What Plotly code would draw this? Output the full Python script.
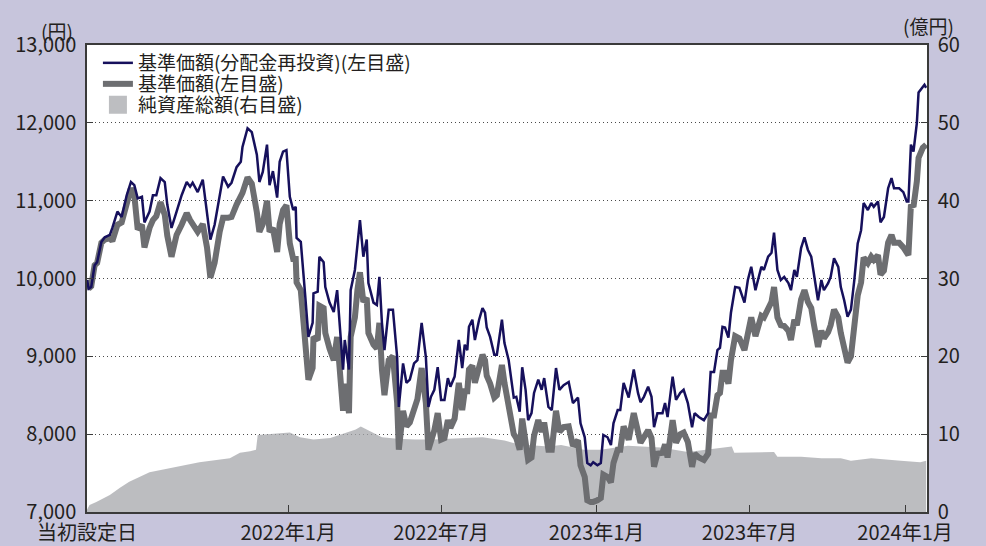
import plotly.graph_objects as go

# ---------------- data ----------------
dates = [
    "2021-05-08", "2021-05-10", "2021-05-13", "2021-05-17", "2021-05-20", "2021-05-25", "2021-05-29", "2021-06-04",
    "2021-06-07", "2021-06-13", "2021-06-18", "2021-06-24", "2021-06-29", "2021-07-03", "2021-07-07", "2021-07-12",
    "2021-07-15", "2021-07-21", "2021-07-25", "2021-07-29", "2021-08-03", "2021-08-08", "2021-08-11", "2021-08-16",
    "2021-08-22", "2021-08-28", "2021-09-03", "2021-09-07", "2021-09-10", "2021-09-16", "2021-09-22", "2021-09-27",
    "2021-10-01", "2021-10-06", "2021-10-12", "2021-10-16", "2021-10-22", "2021-10-26", "2021-11-01", "2021-11-06",
    "2021-11-08", "2021-11-14", "2021-11-19", "2021-11-25", "2021-11-28", "2021-12-02", "2021-12-07", "2021-12-10",
    "2021-12-14", "2021-12-19", "2021-12-22", "2021-12-26", "2021-12-30", "2022-01-03", "2022-01-07", "2022-01-10",
    "2022-01-11", "2022-01-16", "2022-01-21", "2022-01-25", "2022-01-30", "2022-01-31", "2022-02-05", "2022-02-07",
    "2022-02-12", "2022-02-14", "2022-02-19", "2022-02-24", "2022-02-28", "2022-03-03", "2022-03-07", "2022-03-09",
    "2022-03-14", "2022-03-16", "2022-03-21", "2022-03-24", "2022-03-27", "2022-03-31", "2022-04-04", "2022-04-06",
    "2022-04-12", "2022-04-16", "2022-04-19", "2022-04-22", "2022-04-25", "2022-04-30", "2022-05-05", "2022-05-10",
    "2022-05-12", "2022-05-17", "2022-05-21", "2022-05-25", "2022-05-30", "2022-06-03", "2022-06-08", "2022-06-13",
    "2022-06-16", "2022-06-19", "2022-06-23", "2022-06-27", "2022-07-01", "2022-07-05", "2022-07-09", "2022-07-12",
    "2022-07-17", "2022-07-22", "2022-07-26", "2022-07-29", "2022-08-01", "2022-08-03", "2022-08-07", "2022-08-10",
    "2022-08-15", "2022-08-19", "2022-08-22", "2022-08-24", "2022-08-28", "2022-09-02", "2022-09-05", "2022-09-11",
    "2022-09-14", "2022-09-19", "2022-09-25", "2022-09-28", "2022-10-02", "2022-10-05", "2022-10-09", "2022-10-12",
    "2022-10-16", "2022-10-19", "2022-10-24", "2022-10-28", "2022-10-31", "2022-11-05", "2022-11-09", "2022-11-14",
    "2022-11-18", "2022-11-23", "2022-11-29", "2022-12-04", "2022-12-10", "2022-12-13", "2022-12-18", "2022-12-21",
    "2022-12-25", "2022-12-28", "2023-01-02", "2023-01-06", "2023-01-09", "2023-01-14", "2023-01-18", "2023-01-21",
    "2023-01-26", "2023-01-29", "2023-02-02", "2023-02-08", "2023-02-14", "2023-02-19", "2023-02-22", "2023-02-26",
    "2023-03-03", "2023-03-07", "2023-03-10", "2023-03-14", "2023-03-20", "2023-03-23", "2023-03-26", "2023-04-01",
    "2023-04-05", "2023-04-10", "2023-04-14", "2023-04-19", "2023-04-24", "2023-04-27", "2023-05-02", "2023-05-08",
    "2023-05-13", "2023-05-16", "2023-05-20", "2023-05-24", "2023-05-27", "2023-05-30", "2023-06-02", "2023-06-06",
    "2023-06-09", "2023-06-14", "2023-06-19", "2023-06-25", "2023-06-29", "2023-07-03", "2023-07-08", "2023-07-11",
    "2023-07-15", "2023-07-18", "2023-07-23", "2023-07-27", "2023-07-30", "2023-08-03", "2023-08-07", "2023-08-11",
    "2023-08-16", "2023-08-19", "2023-08-23", "2023-08-26", "2023-08-31", "2023-09-04", "2023-09-08", "2023-09-12",
    "2023-09-15", "2023-09-20", "2023-09-24", "2023-09-27", "2023-10-02", "2023-10-05", "2023-10-09", "2023-10-14",
    "2023-10-17", "2023-10-21", "2023-10-25", "2023-10-29", "2023-11-02", "2023-11-06", "2023-11-10", "2023-11-13",
    "2023-11-18", "2023-11-22", "2023-11-25", "2023-11-30", "2023-12-03", "2023-12-07", "2023-12-12", "2023-12-16",
    "2023-12-19", "2023-12-25", "2023-12-30", "2024-01-03", "2024-01-05", "2024-01-08", "2024-01-11", "2024-01-15",
    "2024-01-17", "2024-01-22", "2024-01-24", "2024-01-26",
]

# 基準価額（分配金再投資）
nav_reinvested = [
    9980, 9870, 9890, 10170, 10210, 10470, 10530, 10560,
    10650, 10860, 10790, 11070, 11240, 11200, 11030, 11050,
    10720, 10860, 11070, 11070, 11290, 11240, 10950, 10650,
    10860, 11070, 11240, 11180, 11230, 11110, 11270, 10820,
    10500, 10690, 11040, 11310, 11180, 11230, 11430, 11500,
    11690, 11930, 11880, 11590, 11240, 11370, 11720, 11200,
    11380, 11040, 11500, 11630, 11650, 11050, 10880, 10920,
    10520, 10470, 9810, 9250, 9430, 9810, 9830, 10280,
    10210, 9890, 9690, 9570, 9850, 9380, 8830, 9210,
    8830, 9850, 10110, 10430, 10750, 10280, 10500, 9940,
    9690, 9660, 10020, 9430, 9080, 9600, 9600, 8990,
    8350, 8910, 8660, 8700, 8910, 8950, 9430, 8990,
    8350, 8480, 8570, 8860, 8440, 8440, 8720, 8610,
    8740, 9210, 8850, 9150, 9080, 9380, 9470, 9210,
    9470, 9620, 9560, 9370, 9250, 9020, 9020, 9470,
    9170, 8950, 8470, 8480, 8290, 8860, 8570, 8180,
    8270, 8530, 8700, 8570, 8720, 8350, 8310, 8850,
    8570, 8630, 8670, 8400, 8470, 8140, 7960, 7630,
    7600, 7640, 7600, 7630, 7990, 7960, 7860, 8140,
    8310, 8310, 8660, 8470, 8830, 8530, 8410, 8480,
    8610, 8480, 8090, 8270, 8270, 8400, 8220, 8740,
    8440, 8530, 8570, 8400, 8090, 8270, 8220, 8180,
    8270, 8800, 8800, 9080, 9110, 9380, 9370, 9240,
    9560, 9890, 9880, 9690, 9980, 10150, 9850, 9980,
    10150, 10110, 10280, 10330, 10590, 10110, 9980, 10020,
    9940, 9850, 10110, 10020, 10390, 10530, 10370, 10280,
    10070, 9720, 9980, 9850, 9940, 10020, 10260, 10150,
    9890, 9720, 9510, 9600, 9980, 10450, 10620, 10970,
    10880, 10970, 10920, 10990, 10720, 10790, 11160, 11290,
    11160, 11160, 11110, 10990, 10990, 11720, 11630, 12000,
    12390, 12460, 12490, 12450,
]

# 基準価額
nav = [
    9980, 9870, 9900, 10170, 10200, 10460, 10500, 10520,
    10480, 10690, 10720, 11000, 11160, 11070, 10630, 10690,
    10400, 10650, 10750, 10800, 10980, 10820, 10550, 10280,
    10560, 10690, 10840, 10750, 10690, 10600, 10700, 10400,
    10010, 10200, 10600, 10780, 10780, 10790, 10950, 11050,
    11100, 11300, 11220, 10850, 10600, 10700, 11000, 10600,
    10650, 10340, 10700, 10880, 10940, 10450, 10250, 10250,
    9950, 9850, 9210, 8700, 8850, 9250, 9210, 9650,
    9620, 9300, 9100, 8950, 9250, 8800, 8300, 8650,
    8270, 9250, 9500, 9850, 10080, 9700, 9750, 9300,
    9150, 9100, 9430, 8830, 8500, 8950, 9000, 8400,
    7800, 8300, 8100, 8150, 8350, 8450, 8850, 8400,
    7800, 7900, 8050, 8270, 7930, 7950, 8180, 8080,
    8200, 8660, 8310, 8550, 8550, 8830, 8880, 8660,
    8900, 9020, 8950, 8750, 8650, 8470, 8500, 8890,
    8660, 8350, 8000, 7950, 7800, 8200, 7850, 7670,
    7700, 7980, 8180, 8030, 8150, 7800, 7800, 8300,
    8030, 8090, 8100, 7850, 7920, 7600, 7450, 7150,
    7130, 7130, 7150, 7180, 7480, 7450, 7380, 7630,
    7800, 7800, 8100, 7930, 8270, 7980, 7890, 7960,
    8050, 7950, 7580, 7750, 7760, 7870, 7700, 8180,
    7890, 8000, 8020, 7900, 7580, 7750, 7700, 7670,
    7750, 8240, 8240, 8500, 8530, 8790, 8790, 8650,
    8950, 9260, 9230, 9080, 9350, 9500, 9260, 9400,
    9520, 9500, 9640, 9700, 9890, 9500, 9400, 9390,
    9330, 9210, 9470, 9400, 9730, 9850, 9700, 9620,
    9420, 9120, 9330, 9230, 9310, 9400, 9600, 9500,
    9300, 9120, 8920, 9000, 9350, 9780, 9950, 10270,
    10200, 10280, 10240, 10300, 10050, 10100, 10460, 10560,
    10460, 10460, 10400, 10310, 10300, 10950, 10920, 11250,
    11550, 11680, 11720, 11720,
]

# 純資産総額（億円）
asset_dates = [
    "2021-05-08", "2021-05-11", "2021-05-19", "2021-06-04", "2021-06-16", "2021-06-27", "2021-07-21", "2021-08-20",
    "2021-09-18", "2021-10-24", "2021-11-05", "2021-11-17", "2021-11-24", "2021-11-26", "2022-01-03", "2022-01-15",
    "2022-01-31", "2022-02-20", "2022-03-13", "2022-03-22", "2022-03-28", "2022-04-06", "2022-04-22", "2022-05-10",
    "2022-05-31", "2022-06-21", "2022-07-22", "2022-08-19", "2022-09-14", "2022-09-30", "2022-11-05", "2022-11-20",
    "2022-12-17", "2023-01-06", "2023-02-07", "2023-03-18", "2023-04-19", "2023-05-13", "2023-06-10", "2023-06-13",
    "2023-07-30", "2023-08-03", "2023-08-31", "2023-09-24", "2023-10-17", "2023-10-29", "2023-11-22", "2023-12-27",
    "2024-01-19", "2024-01-26",
]
net_assets = [
    0.3, 0.9, 1.3, 2.2, 3.1, 3.9, 5.1, 5.8,
    6.4, 6.9, 7.6, 7.8, 8.0, 9.9, 10.2, 9.6,
    9.3, 9.5, 10.2, 10.6, 11.0, 10.5, 9.6, 9.4,
    9.3, 9.3, 9.5, 9.6, 9.2, 8.7, 8.4, 8.6,
    8.0, 8.0, 8.5, 8.3, 7.7, 8.0, 8.4, 7.6,
    7.7, 7.1, 7.1, 6.9, 6.9, 6.6, 6.9, 6.6,
    6.4, 6.6,
]

x_range = ["2021-05-08", "2024-01-27"]
x_tickvals = ["2021-05-08", "2022-01-01", "2022-07-01", "2023-01-01", "2023-07-01", "2024-01-01"]
x_ticktext = ["当初設定日", "2022年1月", "2022年7月", "2023年1月", "2023年7月", "2024年1月"]
left_tickvals = [7000, 8000, 9000, 10000, 11000, 12000, 13000]
right_tickvals = [0, 10, 20, 30, 40, 50, 60]

names = ["基準価額(分配金再投資)(左目盛)", "基準価額(左目盛)", "純資産総額(右目盛)"]

# ---------------- styling ----------------
FONT = "Noto Sans CJK JP"
TXT = "#231f20"
AXIS = "#3a3a3a"
BG = "#c7c5dc"
AREA = "rgba(166,167,171,0.75)"
AREA_SOLID = "#bdbec1"
TICK_SIZE = 20

fig = go.Figure()

fig.add_trace(go.Scatter(
    x=asset_dates, y=net_assets, yaxis="y", mode="lines", fill="tozeroy",
    line=dict(width=0, color=AREA), fillcolor=AREA,
    name=names[2], showlegend=False, hoverinfo="skip",
))
# legend entry for the area (square swatch like the reference)
fig.add_trace(go.Scatter(
    x=[None], y=[None], yaxis="y", mode="markers",
    marker=dict(symbol="square", size=16, color=AREA_SOLID,
                line=dict(width=2, color=AREA_SOLID)),
    name=names[2], legend="legend3",
))
fig.add_trace(go.Scatter(
    x=dates, y=nav, yaxis="y2", mode="lines",
    line=dict(color="#6d6e71", width=6),
    name=names[1], legend="legend2",
))
fig.add_trace(go.Scatter(
    x=dates, y=nav_reinvested, yaxis="y2", mode="lines",
    line=dict(color="#16105c", width=2.5),
    name=names[0], legend="legend",
))

PLOT_H = 546 - 45 - 34


def legend_box(py):
    return dict(
        x=0.013, y=1 - (py - 45) / PLOT_H, xanchor="left", yanchor="middle",
        bgcolor="rgba(0,0,0,0)", borderwidth=0,
        font=dict(family=FONT, size=19, color=TXT),
        itemwidth=30,
    )


fig.update_layout(
    width=986, height=546,
    margin=dict(l=87, r=59, t=45, b=34, autoexpand=False),
    paper_bgcolor=BG, plot_bgcolor="white",
    font=dict(family=FONT, size=TICK_SIZE, color=TXT),
    showlegend=True,
    legend=legend_box(63),
    legend2=legend_box(84),
    legend3=legend_box(105),
    xaxis=dict(
        type="date", range=x_range, automargin=False,
        tickvals=x_tickvals, ticktext=x_ticktext,
        ticks="inside", ticklen=7, tickwidth=1.2, tickcolor=AXIS,
        showline=True, linecolor=AXIS, linewidth=1.5, mirror=True,
        showgrid=False, zeroline=False, ticklabelstandoff=2,
        tickfont=dict(family=FONT, size=TICK_SIZE, color=TXT),
    ),
    yaxis=dict(
        side="right", range=[0, 60], tickvals=right_tickvals, automargin=False,
        ticks="inside", ticklen=6, tickwidth=1.2, tickcolor=AXIS,
        showline=True, linecolor=AXIS, linewidth=1.5,
        showgrid=False, zeroline=False, ticklabelstandoff=5,
        tickfont=dict(family=FONT, size=TICK_SIZE, color=TXT),
    ),
    yaxis2=dict(
        overlaying="y", side="left", range=[7000, 13000], tickvals=left_tickvals,
        tickformat=",d", automargin=False,
        ticks="inside", ticklen=6, tickwidth=1.2, tickcolor=AXIS,
        showline=True, linecolor=AXIS, linewidth=1.5,
        showgrid=True, gridcolor="#4a4a4a", gridwidth=1, griddash="1px,3px",
        zeroline=False, ticklabelstandoff=5,
        tickfont=dict(family=FONT, size=TICK_SIZE, color=TXT),
    ),
    annotations=[
        dict(text="(円)", xref="paper", yref="paper", x=-0.014, y=1.030,
             xanchor="right", yanchor="middle", showarrow=False,
             font=dict(family=FONT, size=19, color=TXT)),
        dict(text="(億円)", xref="paper", yref="paper", x=1.034, y=1.042,
             xanchor="right", yanchor="middle", showarrow=False,
             font=dict(family=FONT, size=19, color=TXT)),
    ],
)

fig.write_html("out.html", config={"displayModeBar": False},
               post_script="document.body.style.margin='0';")
